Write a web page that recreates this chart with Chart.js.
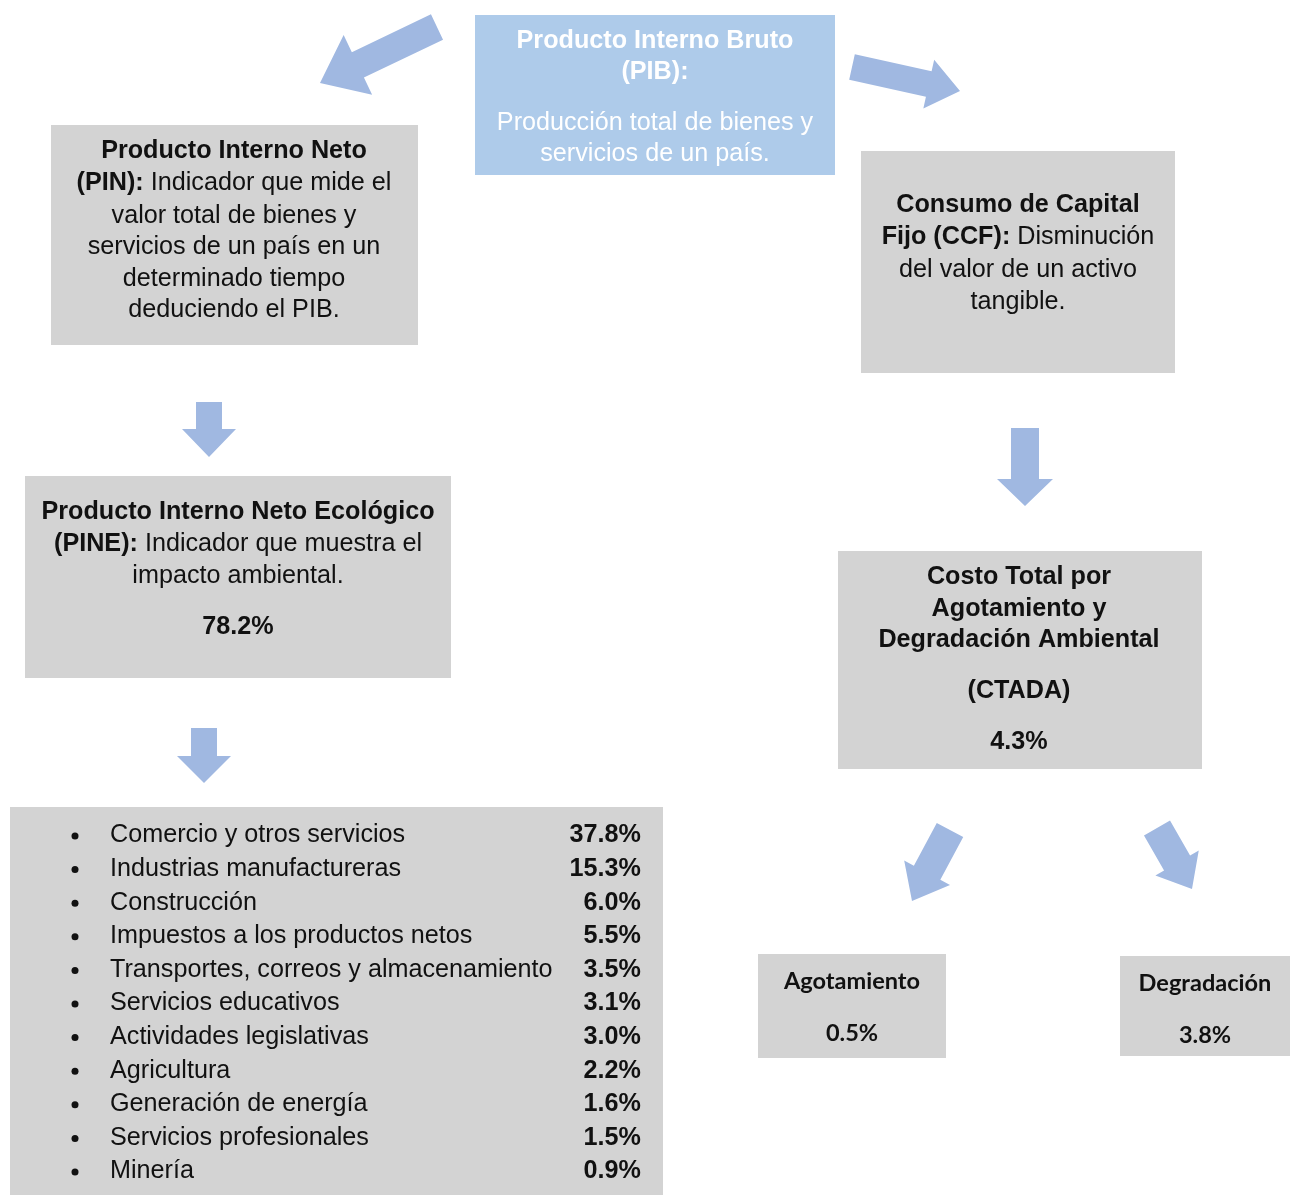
<!DOCTYPE html>
<html>
<head>
<meta charset="utf-8">
<script src="https://cdn.jsdelivr.net/npm/chart.js@4.4.1/dist/chart.umd.min.js"></script>
<style>
  html, body { margin: 0; padding: 0; background: #fff; }
  canvas { display: block; }
</style>
</head>
<body>
<canvas id="c" width="1291" height="1195"></canvas>
<script>
// data
const sectorLabels = [
  "Comercio y otros servicios",
  "Industrias manufactureras",
  "Construcción",
  "Impuestos a los productos netos",
  "Transportes, correos y almacenamiento",
  "Servicios educativos",
  "Actividades legislativas",
  "Agricultura",
  "Generación de energía",
  "Servicios profesionales",
  "Minería"
];
const sectorValues = [37.8, 15.3, 6.0, 5.5, 3.5, 3.1, 3.0, 2.2, 1.6, 1.5, 0.9];
const pineShare = 78.2;
const ctadaShare = 4.3;
const agotamientoShare = 0.5;
const degradacionShare = 3.8;

const pct = v => v.toFixed(1) + "%";

const GRAY = "#d3d3d3";
const BLUE_BOX = "#aecbea";
const ARROW = "#a0b8e1";
const SANS = "Arial, 'Liberation Sans', Helvetica, sans-serif";
const CAL = "Lato, 'Open Sans', sans-serif";
const FS = 26.5;   // font size
const SX = 0.95;   // the source text is a bit squeezed sideways
const DY = 2;      // small nudge down for text baselines

// diagram layout (in the 0..1291 / 0..1195 value space of the hidden axes)
const nodes = [
  { box: [475, 15, 835, 175], fill: BLUE_BOX, color: "#ffffff", cx: 655, lines: [
    [39, [["Producto Interno Bruto", true]]],
    [70, [["(PIB):", true]]],
    [121, [["Producción total de bienes y", false]]],
    [152, [["servicios de un país.", false]]]
  ]},
  { box: [51, 125, 418, 345], fill: GRAY, color: "#111", cx: 234, lines: [
    [149, [["Producto Interno Neto", true]]],
    [181, [["(PIN):", true], [" Indicador que mide el", false]]],
    [214, [["valor total de bienes y", false]]],
    [245, [["servicios de un país en un", false]]],
    [277, [["determinado tiempo", false]]],
    [308, [["deduciendo el PIB.", false]]]
  ]},
  { box: [25, 476, 451, 678], fill: GRAY, color: "#111", cx: 238, lines: [
    [510, [["Producto Interno Neto Ecológico", true]]],
    [542, [["(PINE):", true], [" Indicador que muestra el", false]]],
    [574, [["impacto ambiental.", false]]],
    [625, [[pct(pineShare), true]]]
  ]},
  { box: [861, 151, 1175, 373], fill: GRAY, color: "#111", cx: 1018, lines: [
    [203, [["Consumo de Capital", true]]],
    [235, [["Fijo (CCF):", true], [" Disminución", false]]],
    [268, [["del valor de un activo", false]]],
    [300, [["tangible.", false]]]
  ]},
  { box: [838, 551, 1202, 769], fill: GRAY, color: "#111", cx: 1019, lines: [
    [575, [["Costo Total por", true]]],
    [607, [["Agotamiento y", true]]],
    [638, [["Degradación Ambiental", true]]],
    [689, [["(CTADA)", true]]],
    [740, [[pct(ctadaShare), true]]]
  ]},
  { box: [758, 954, 946, 1058], fill: GRAY, color: "#111", cx: 852, family: CAL, size: 22, sx: 1.07, lines: [
    [980, [["Agotamiento", true]]],
    [1032, [[pct(agotamientoShare), true]]]
  ]},
  { box: [1120, 956, 1290, 1056], fill: GRAY, color: "#111", cx: 1205, family: CAL, size: 22, sx: 1.07, lines: [
    [982, [["Degradación", true]]],
    [1034, [[pct(degradacionShare), true]]]
  ]}
];

// block arrows: tail, tip, shaft width, head width, head length
const arrows = [
  [[437, 27], [320, 83], 28, 66, 42],
  [[852, 67], [960, 91], 26, 50, 32],
  [[209, 402], [209, 457], 26, 54, 28],
  [[204, 728], [204, 783], 26, 54, 27],
  [[1025, 428], [1025, 506], 28, 56, 27],
  [[950, 830], [912, 901], 30, 52, 32],
  [[1157, 828], [1192, 889], 30, 50, 30]
];

const sectorBox = [10, 807, 663, 1195];
const rowTop = 833, rowStep = 33.6;

const diagram = {
  id: "diagram",
  afterDraw(chart) {
    const { ctx, scales: { x, y } } = chart;
    const X = v => x.getPixelForValue(v);
    const Y = v => y.getPixelForValue(v);

    const rect = (b, fill) => {
      ctx.fillStyle = fill;
      ctx.fillRect(X(b[0]), Y(b[1]), X(b[2]) - X(b[0]), Y(b[3]) - Y(b[1]));
    };

    const text = (t, px, py, font, sx, align) => {
      ctx.save();
      ctx.translate(px, py + DY);
      ctx.scale(sx, 1);
      ctx.font = font;
      ctx.textAlign = align;
      ctx.textBaseline = "middle";
      ctx.fillText(t, 0, 0);
      ctx.restore();
    };

    const richLine = (parts, cx, cy, size, family, color, sx) => {
      ctx.fillStyle = color;
      const fonts = parts.map(([, b]) => (b ? "bold " : "") + size + "px " + family);
      const widths = parts.map(([t], i) => {
        ctx.font = fonts[i];
        return ctx.measureText(t).width * sx;
      });
      const total = widths.reduce((a, b) => a + b, 0);
      let px = X(cx) - total / 2;
      parts.forEach(([t], i) => {
        text(t, px, Y(cy), fonts[i], sx, "left");
        px += widths[i];
      });
    };

    ctx.save();

    // arrows
    ctx.fillStyle = ARROW;
    arrows.forEach(([t, h, sw, hw, hl]) => {
      const x0 = X(t[0]), y0 = Y(t[1]), x1 = X(h[0]), y1 = Y(h[1]);
      const len = Math.hypot(x1 - x0, y1 - y0);
      const ux = (x1 - x0) / len, uy = (y1 - y0) / len;
      const nx = -uy, ny = ux;
      const bx = x1 - ux * hl, by = y1 - uy * hl;
      ctx.beginPath();
      ctx.moveTo(x0 + nx * sw / 2, y0 + ny * sw / 2);
      ctx.lineTo(bx + nx * sw / 2, by + ny * sw / 2);
      ctx.lineTo(bx + nx * hw / 2, by + ny * hw / 2);
      ctx.lineTo(x1, y1);
      ctx.lineTo(bx - nx * hw / 2, by - ny * hw / 2);
      ctx.lineTo(bx - nx * sw / 2, by - ny * sw / 2);
      ctx.lineTo(x0 - nx * sw / 2, y0 - ny * sw / 2);
      ctx.closePath();
      ctx.fill();
    });

    // boxes with text
    nodes.forEach(n => {
      rect(n.box, n.fill);
      n.lines.forEach(([cy, parts]) =>
        richLine(parts, n.cx, cy, n.size || FS, n.family || SANS, n.color, n.sx || SX));
    });

    // sector list
    rect(sectorBox, GRAY);
    ctx.fillStyle = "#111";
    sectorLabels.forEach((label, i) => {
      const cy = Y(rowTop + i * rowStep);
      ctx.beginPath();
      ctx.arc(X(75), cy + DY + 1, 3.5, 0, Math.PI * 2);
      ctx.fill();
      text(label, X(110), cy, FS + "px " + SANS, SX, "left");
      text(pct(sectorValues[i]), X(641), cy, "bold " + FS + "px " + SANS, SX, "right");
    });

    ctx.restore();
  }
};

new Chart(document.getElementById("c"), {
  type: "scatter",
  data: { datasets: [{ data: [], pointRadius: 0 }] },
  options: {
    responsive: false,
    animation: false,
    layout: { padding: 0 },
    plugins: { legend: { display: false }, tooltip: { enabled: false } },
    scales: {
      x: { type: "linear", min: 0, max: 1291, display: false },
      y: { type: "linear", min: 0, max: 1195, reverse: true, display: false }
    }
  },
  plugins: [diagram]
});
</script>
</body>
</html>
